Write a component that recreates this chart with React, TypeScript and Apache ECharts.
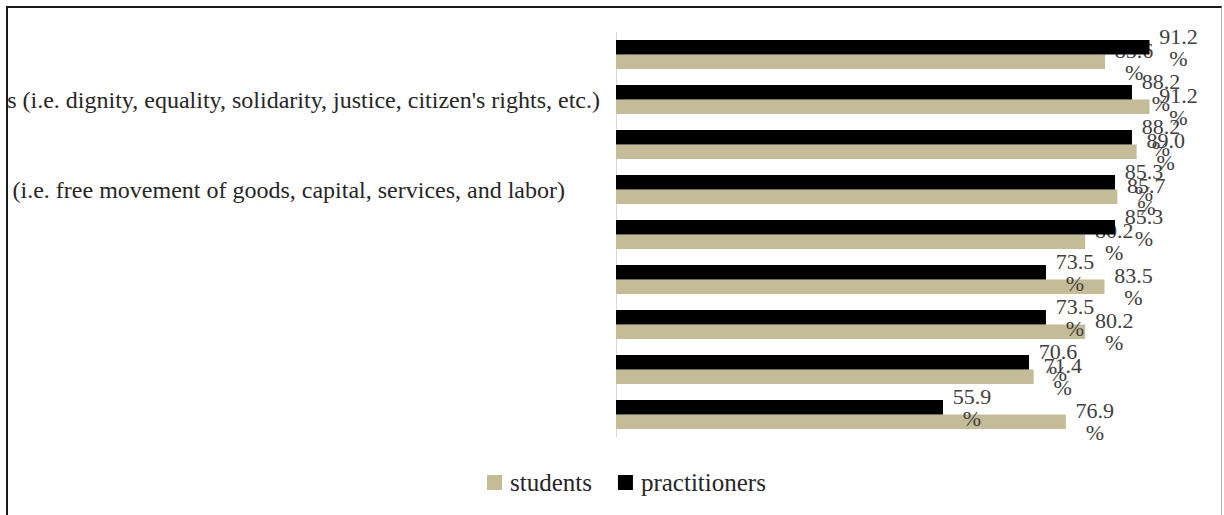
import React, { useEffect, useRef } from "react";
import * as echarts from "echarts";

const categories = ["c1", "c2", "c3", "c4", "c5", "c6", "c7", "c8", "c9"];
const categoryLabels = [
  "",
  "Values (i.e. dignity, equality, solidarity, justice, citizen's rights, etc.)",
  "",
  "Economic freedoms (i.e. free movement of goods, capital, services, and labor)",
  "",
  "",
  "",
  "",
  "",
];
const students = [83.6, 91.2, 89.0, 85.7, 80.2, 83.5, 80.2, 71.4, 76.9];
const practitioners = [91.2, 88.2, 88.2, 85.3, 85.3, 73.5, 73.5, 70.6, 55.9];
const seriesNames = ["students", "practitioners"];

const FONT = "Liberation Serif";

export default function App() {
  const ref = useRef<HTMLDivElement>(null);
  useEffect(() => {
    if (!ref.current) return;
    const chart = echarts.init(ref.current, undefined, { renderer: "svg" });
    const label = {
      show: true,
      position: "right",
      distance: 8,
      formatter: (p: any) => p.value.toFixed(1) + "\n%",
      color: "#404040",
      fontFamily: FONT,
      fontSize: 22,
      lineHeight: 22,
      align: "center",
      offset: [21, 0],
    };
    chart.setOption({
      animation: false,
      backgroundColor: "#ffffff",
      textStyle: { fontFamily: FONT },
      legend: {
        data: seriesNames,
        left: 474,
        top: 457,
        itemWidth: 15,
        itemHeight: 15,
        itemGap: 26,
        icon: "rect",
        textStyle: { fontFamily: FONT, fontSize: 25, color: "#262626", padding: [0, 0, 0, 3] },
      },
      grid: { left: 608, top: 24, width: 585, height: 405, outerBoundsMode: "none", containLabel: false },
      xAxis: {
        type: "value",
        min: 0,
        max: 100,
        show: false,
        splitLine: { show: false },
      },
      yAxis: {
        type: "category",
        data: categories,
        inverse: true,
        axisLine: { show: true, lineStyle: { color: "#d9d9d9", width: 1 } },
        axisTick: { show: false },
        axisLabel: {
          margin: 16,
          fontFamily: FONT,
          fontSize: 24,
          color: "#262626",
          formatter: (_v: string, i: number) => {
            if (i === 3) return "{b|" + categoryLabels[i] + "}";
            return categoryLabels[i];
          },
          rich: {
            b: { fontFamily: FONT, fontSize: 24, color: "#262626", padding: [0, 35, 0, 0] },
          },
        },
      },
      series: [
        {
          name: "practitioners",
          type: "bar",
          data: practitioners,
          barWidth: 14.5,
          barGap: "0%",
          itemStyle: { color: "#000000" },
          label,
          z: 3,
        },
        {
          name: "students",
          type: "bar",
          data: students,
          barWidth: 14.5,
          barGap: "0%",
          itemStyle: { color: "#c4bc96" },
          label,
          z: 2,
        },
      ],
    });
    return () => chart.dispose();
  }, []);
  return (
    <div
      style={{
        position: "absolute",
        left: 6,
        top: 6,
        width: 1216,
        height: 520,
        borderLeft: "2px solid #1a1a1a",
        borderTop: "2px solid #1a1a1a",
        borderRight: "1px solid #b0b0b0",
        boxSizing: "border-box",
        background: "#fff",
      }}
    >
      <div ref={ref} style={{ width: 1213, height: 515 }} />
    </div>
  );
}
